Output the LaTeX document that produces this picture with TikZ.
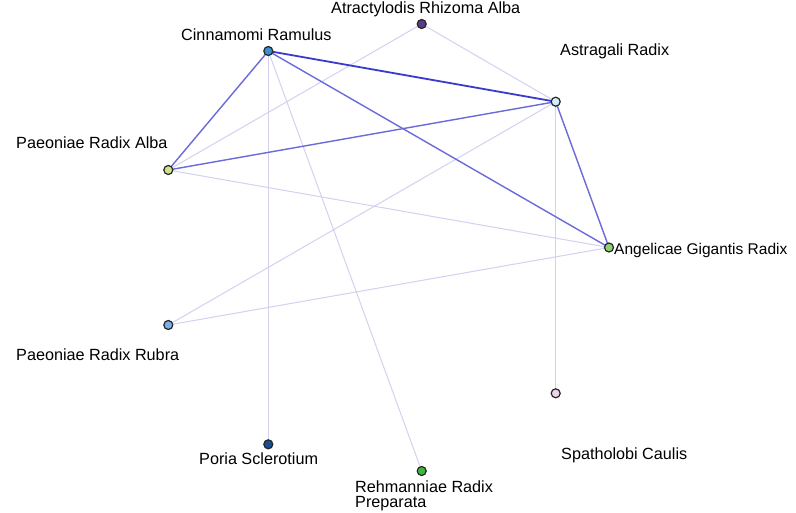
\documentclass[tikz,border=0pt]{standalone}
\usepackage{fontspec}
\setmainfont{Liberation Sans}
\definecolor{eStrong}{HTML}{3A3ACC}
\definecolor{eMid}{HTML}{6A6ADA}
\definecolor{eLight}{HTML}{D2D2F0}
\definecolor{cCin}{HTML}{3A8FD0}
\definecolor{cAtr}{HTML}{5A3A8A}
\definecolor{cAst}{HTML}{D2F0FA}
\definecolor{cPAl}{HTML}{D2E08C}
\definecolor{cAng}{HTML}{90D070}
\definecolor{cPRu}{HTML}{7AAEE8}
\definecolor{cSpa}{HTML}{EAD4EA}
\definecolor{cPor}{HTML}{1A4F8F}
\definecolor{cReh}{HTML}{3CB83C}
\tikzset{
  herb/.style={circle, draw=black!85, line width=1.2pt, minimum size=9pt, inner sep=0pt},
  lbl/.style={anchor=base west, inner sep=0pt, font=\fontsize{16.2}{14.7}\selectfont},
  strongedge/.style={draw=eStrong, line width=1.8pt},
  midedge/.style={draw=eMid, line width=1.4pt},
  lightedge/.style={draw=eLight, line width=1pt},
}
\begin{document}
\begin{tikzpicture}[x=1pt, y=-1pt]
\useasboundingbox (0,0) rectangle (796,512);
\fill[white] (0,0) rectangle (796,512);
% node coordinates
\coordinate (pCin) at (268.3,51);
\coordinate (pAtr) at (421.7,24);
\coordinate (pAst) at (555.7,101.7);
\coordinate (pPAl) at (168.3,170);
\coordinate (pAng) at (609,247.5);
\coordinate (pPRu) at (168.3,325);
\coordinate (pSpa) at (555.7,393.3);
\coordinate (pPor) at (268.3,444.3);
\coordinate (pReh) at (421.7,471);
% light edges
\draw[lightedge] (pCin) -- (pPor);
\draw[lightedge] (pCin) -- (pReh);
\draw[lightedge] (pAtr) -- (pPAl);
\draw[lightedge] (pAtr) -- (pAst);
\draw[lightedge] (pPAl) -- (pAng);
\draw[lightedge] (pPRu) -- (pAng);
\draw[lightedge] (pPRu) -- (pAst);
\draw[lightedge] (pAst) -- (pSpa);
% medium edges
\draw[midedge] (pCin) -- (pPAl);
\draw[midedge] (pCin) -- (pAng);
\draw[midedge] (pAst) -- (pPAl);
\draw[midedge] (pAst) -- (pAng);
% strong edge
\draw[strongedge] (pCin) -- (pAst);
% nodes
\node[herb, fill=cCin] (Cin) at (pCin) {};
\node[herb, fill=cAtr] (Atr) at (pAtr) {};
\node[herb, fill=cAst] (Ast) at (pAst) {};
\node[herb, fill=cPAl] (PAl) at (pPAl) {};
\node[herb, fill=cAng] (Ang) at (pAng) {};
\node[herb, fill=cPRu] (PRu) at (pPRu) {};
\node[herb, fill=cSpa] (Spa) at (pSpa) {};
\node[herb, fill=cPor] (Por) at (pPor) {};
\node[herb, fill=cReh] (Reh) at (pReh) {};
% labels
\node[lbl] (lCin) at (181,40.7) {Cinnamomi Ramulus};
\node[lbl] (lAtr) at (331,13.5) {Atractylodis Rhizoma Alba};
\node[lbl] (lAst) at (560,55) {Astragali Radix};
\node[lbl] (lPAl) at (16,148) {Paeoniae Radix Alba};
\node[lbl, font=\fontsize{15.5}{14.7}\selectfont] (lAng) at (614,254.3) {Angelicae Gigantis Radix};
\node[lbl] (lPRu) at (16,360) {Paeoniae Radix Rubra};
\node[lbl] (lSpa) at (561,459.3) {Spatholobi Caulis};
\node[lbl] (lPor) at (199,464.4) {Poria Sclerotium};
\node[lbl, align=left] (lReh) at (355,507.4) {Rehmanniae Radix\\Preparata};
\end{tikzpicture}
\end{document}
